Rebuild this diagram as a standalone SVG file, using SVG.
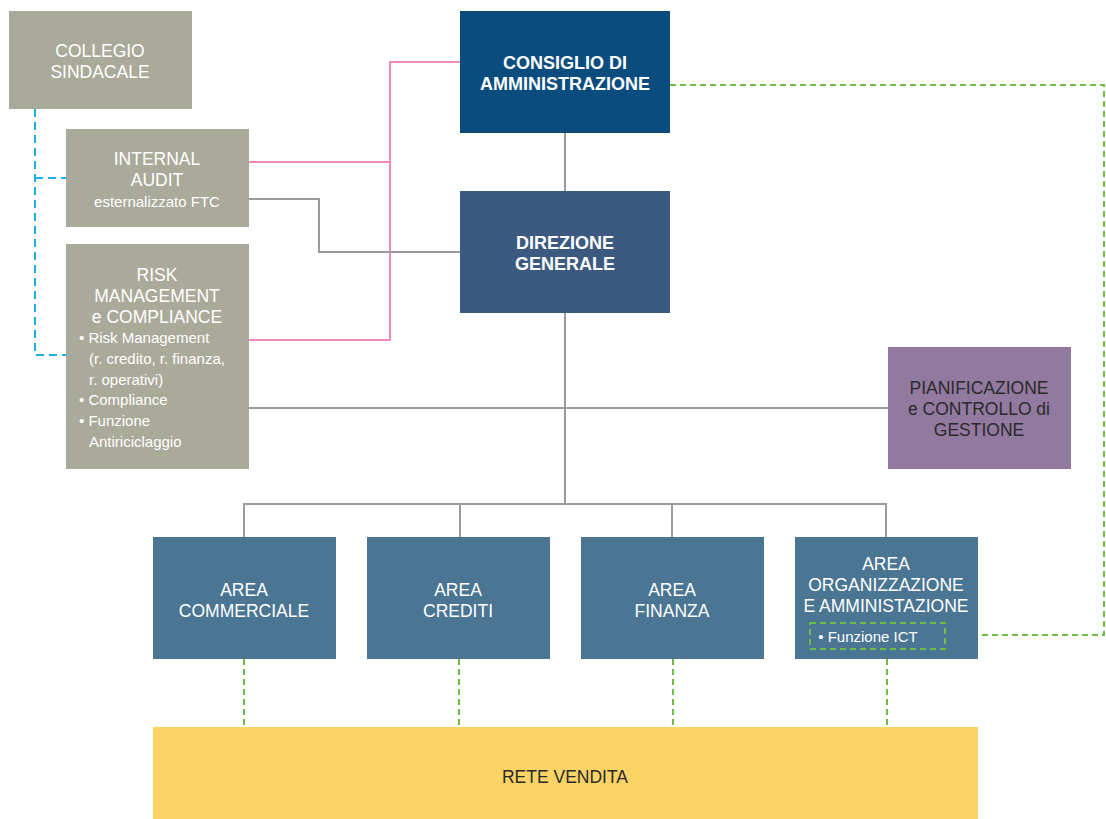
<svg xmlns="http://www.w3.org/2000/svg" width="1106" height="819" viewBox="0 0 1106 819">
<style>
.t{font-family:"Liberation Sans",Arial,sans-serif;text-anchor:middle;fill:#fff;font-size:17.5px}
.b{font-weight:bold;font-size:18px}
.s{font-size:15px}
.l{text-anchor:start}
.d{fill:#2a2a2a}
.gray{fill:#aaaa9a}
.area{fill:#4a7593}
.g{stroke:#9b9b9b;stroke-width:2;fill:none}
.p{stroke:#f08ab8;stroke-width:2;fill:none}
.bl{stroke:#1eaee8;stroke-width:2;fill:none;stroke-dasharray:8 5}
.gr{stroke:#6cbf43;stroke-width:2;fill:none;stroke-dasharray:6 4}
</style>
<rect width="1106" height="819" fill="#fff"/>
<g id="connectors">
<path class="p" d="M460 62H390V340H249M249 162H390"/>
<path class="g" d="M249 199H319V252H460"/>
<path class="g" d="M565 133V191M565 313V504M249 408H888M244 537V504H886V537M460 504V537M672 504V537"/>
<path class="bl" d="M35 109V355H66M35 178H66"/>
<path class="gr" d="M670 85H1104V635H945"/>
<path class="gr" d="M244 659V727M459 659V727M673 659V727M887 659V727"/>
</g>
<g id="collegio"><rect class="gray" x="9" y="11" width="183" height="98"/>
<text class="t" x="100" y="57">COLLEGIO</text><text class="t" x="100" y="78">SINDACALE</text></g>
<g id="internal-audit"><rect class="gray" x="66" y="129" width="183" height="98"/>
<text class="t" x="157" y="165">INTERNAL</text><text class="t" x="157" y="186">AUDIT</text><text class="t s" x="157" y="207">esternalizzato FTC</text></g>
<g id="risk"><rect class="gray" x="66" y="244" width="183" height="225"/>
<text class="t" x="157" y="281">RISK</text><text class="t" x="157" y="302">MANAGEMENT</text><text class="t" x="157" y="323">e COMPLIANCE</text>
<text class="t s l" x="79" y="343">• Risk Management</text>
<text class="t s l" x="89" y="364">(r. credito, r. finanza,</text>
<text class="t s l" x="89" y="385">r. operativi)</text>
<text class="t s l" x="79" y="405">• Compliance</text>
<text class="t s l" x="79" y="426">• Funzione</text>
<text class="t s l" x="89" y="447">Antiriciclaggio</text></g>
<g id="consiglio"><rect x="460" y="11" width="210" height="122" fill="#0b4c7f"/>
<text class="t b" x="565" y="69">CONSIGLIO DI</text><text class="t b" x="565" y="90">AMMINISTRAZIONE</text></g>
<g id="direzione"><rect x="460" y="191" width="210" height="122" fill="#3c5a80"/>
<text class="t b" x="565" y="249">DIREZIONE</text><text class="t b" x="565" y="270">GENERALE</text></g>
<g id="pianificazione"><rect x="888" y="347" width="183" height="122" fill="#92799f"/>
<text class="t d" x="979" y="394">PIANIFICAZIONE</text><text class="t d" x="979" y="415">e CONTROLLO di</text><text class="t d" x="979" y="436">GESTIONE</text></g>
<g id="area-commerciale"><rect class="area" x="153" y="537" width="183" height="122"/>
<text class="t" x="244" y="596">AREA</text><text class="t" x="244" y="617">COMMERCIALE</text></g>
<g id="area-crediti"><rect class="area" x="367" y="537" width="183" height="122"/>
<text class="t" x="458" y="596">AREA</text><text class="t" x="458" y="617">CREDITI</text></g>
<g id="area-finanza"><rect class="area" x="581" y="537" width="183" height="122"/>
<text class="t" x="672" y="596">AREA</text><text class="t" x="672" y="617">FINANZA</text></g>
<g id="area-organizzazione"><rect class="area" x="795" y="537" width="183" height="122"/>
<text class="t" x="886" y="570">AREA</text><text class="t" x="886" y="591">ORGANIZZAZIONE</text><text class="t" x="886" y="612">E AMMINISTAZIONE</text>
<rect class="gr" x="810" y="623" width="135" height="26"/>
<text class="t s" x="868" y="642">• Funzione ICT</text></g>
<g id="rete-vendita"><rect x="153" y="727" width="825" height="92" fill="#fcd466"/>
<text class="t d" x="565" y="783">RETE VENDITA</text></g>
</svg>
